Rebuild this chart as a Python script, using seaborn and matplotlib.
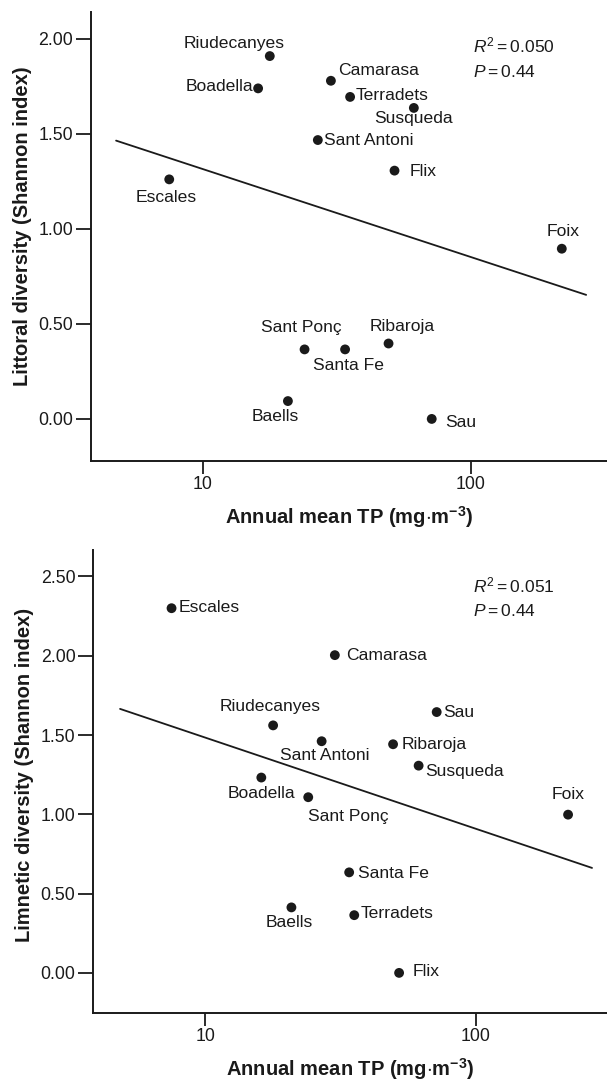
import matplotlib
matplotlib.use('Agg')
import matplotlib.pyplot as plt
import numpy as np
import pandas as pd
import seaborn as sns

# Данные
lakes = ['Escales', 'Boadella', 'Riudecanyes', 'Baells', 'Sant Ponç', 'Sant Antoni',
         'Camarasa', 'Santa Fe', 'Terradets', 'Ribaroja', 'Flix', 'Susqueda', 'Sau', 'Foix']
tp = [7.5, 16.1, 17.8, 20.8, 24.0, 26.9, 30.1, 34.0, 35.5, 49.4, 52.0, 61.4, 71.6, 219.0]
littoral = [1.261, 1.74, 1.91, 0.094, 0.366, 1.468, 1.78, 0.366, 1.695, 0.397, 1.307, 1.637, 0.0, 0.896]
limnetic = [2.30, 1.232, 1.561, 0.413, 1.108, 1.461, 2.004, 0.634, 0.364, 1.442, 0.0, 1.307, 1.645, 0.998]

littoral_fit_x = [4.75, 270.0]
littoral_fit_y = [1.465, 0.653]
limnetic_fit_x = [4.84, 268.5]
limnetic_fit_y = [1.665, 0.662]

littoral_stats = ['$R^2=0.050$', '$P=0.44$']
limnetic_stats = ['$R^2=0.051$', '$P=0.44$']

x_ticks = [10, 100]
littoral_yticks = [0.0, 0.5, 1.0, 1.5, 2.0]
limnetic_yticks = [0.0, 0.5, 1.0, 1.5, 2.0, 2.5]

# Смещения подписей (точки), выравнивание
top_offsets = {
    'Riudecanyes': (-26, 9, 'center'),
    'Boadella': (-3.6, 1.2, 'right'),
    'Camarasa': (5.3, 7.4, 'left'),
    'Terradets': (4.2, 0.7, 'left'),
    'Susqueda': (-0.5, -7.7, 'center'),
    'Sant Antoni': (4.5, 0.0, 'left'),
    'Flix': (11.2, -0.5, 'left'),
    'Escales': (-2, -12.9, 'center'),
    'Foix': (1, 12.4, 'center'),
    'Sant Ponç': (-2.2, 16.0, 'center'),
    'Santa Fe': (2.8, -11.9, 'center'),
    'Ribaroja': (9.8, 12.4, 'center'),
    'Baells': (-9.3, -10.9, 'center'),
    'Sau': (9.8, -2.5, 'left'),
}
bottom_offsets = {
    'Escales': (4.8, 0.2, 'left'),
    'Camarasa': (8.4, -0.5, 'left'),
    'Riudecanyes': (-2, 13.8, 'center'),
    'Sau': (5, -0.5, 'left'),
    'Sant Antoni': (2, -10.4, 'center'),
    'Ribaroja': (6.2, -0.5, 'left'),
    'Susqueda': (5, -4.2, 'left'),
    'Boadella': (0, -11.6, 'center'),
    'Sant Ponç': (0, -13.6, 'left'),
    'Foix': (0, 14.3, 'center'),
    'Santa Fe': (6.5, -0.5, 'left'),
    'Baells': (-1.7, -10.9, 'center'),
    'Terradets': (4.5, 1.0, 'left'),
    'Flix': (9.8, 1.0, 'left'),
}

sns.set_theme(style='ticks')
plt.rcParams['font.family'] = ['Liberation Sans', 'DejaVu Sans']
plt.rcParams['mathtext.fontset'] = 'custom'
plt.rcParams['mathtext.rm'] = 'Liberation Sans'
plt.rcParams['mathtext.it'] = 'Liberation Sans:italic'
plt.rcParams['mathtext.bf'] = 'Liberation Sans:bold'

df = pd.DataFrame({'lake': lakes, 'tp': tp, 'littoral': littoral, 'limnetic': limnetic})

fig = plt.figure(figsize=(6.07, 10.81), dpi=100)
ax1 = fig.add_axes([0.150, 0.5738, 0.850, 0.4151])
ax2 = fig.add_axes([0.154, 0.0632, 0.846, 0.4277])

panels = [
    (ax1, 'littoral', littoral_fit_x, littoral_fit_y, littoral_stats, littoral_yticks,
     (3.83, 323), (-0.22, 2.142), top_offsets, 'Littoral diversity (Shannon index)', 0.522,
     (0.925, 0.866)),
    (ax2, 'limnetic', limnetic_fit_x, limnetic_fit_y, limnetic_stats, limnetic_yticks,
     (3.86, 305), (-0.251, 2.665), bottom_offsets, 'Limnetic diversity (Shannon index)', 0.514,
     (0.923, 0.868)),
]

ink = '#1a1a1a'
for ax, col, fx, fy, stats, yt, xl, yl, offs, ylab, ylab_y, stat_y in panels:
    ax.set_xscale('log')
    sns.lineplot(x=fx, y=fy, ax=ax, color=ink, linewidth=1.3)
    sns.scatterplot(data=df, x='tp', y=col, ax=ax, color=ink, s=50,
                    edgecolor='none', zorder=3)
    for _, row in df.iterrows():
        dx, dy, ha = offs[row['lake']]
        ax.annotate(row['lake'], (row['tp'], row[col]), xytext=(dx, dy),
                    textcoords='offset points', ha=ha, va='center',
                    fontsize=12.6, color=ink)
    ax.text(0.740, stat_y[0], stats[0], transform=ax.transAxes, fontsize=12.5,
            color=ink, va='center', ha='left')
    ax.text(0.740, stat_y[1], stats[1], transform=ax.transAxes, fontsize=12.5,
            color=ink, va='center', ha='left')

    ax.set_xlim(*xl)
    ax.set_ylim(*yl)
    ax.set_xticks(x_ticks)
    ax.set_xticklabels([str(t) for t in x_ticks])
    ax.xaxis.set_minor_locator(plt.NullLocator())
    ax.set_yticks(yt)
    ax.set_yticklabels([f'{v:.2f}' for v in yt])
    ax.tick_params(axis='y', length=11, width=1.3, pad=2, labelsize=12.8, colors=ink)
    ax.tick_params(axis='x', length=9, width=1.3, pad=2, labelsize=12.8, colors=ink)
    for side in ['top', 'right']:
        ax.spines[side].set_visible(False)
    for side in ['left', 'bottom']:
        ax.spines[side].set_linewidth(1.4)
        ax.spines[side].set_color(ink)
    ax.set_xlabel(r'Annual mean TP (mg$\cdot$m$^{\mathbf{-3}}$)', fontsize=14.5,
                  fontweight='bold', color=ink, labelpad=8)
    ax.set_ylabel(ylab, fontsize=14.5, fontweight='bold', color=ink)
    ax.yaxis.set_label_coords(-0.115, ylab_y)

fig.savefig('out.png', dpi=100)
